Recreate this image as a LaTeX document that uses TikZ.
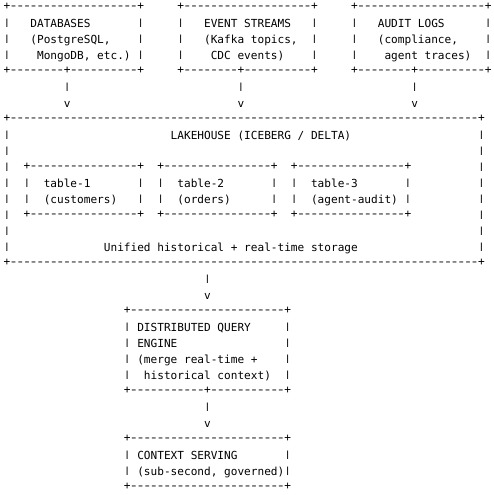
\documentclass[tikz,border=0pt]{standalone}
\usepackage{fontspec}
\usepackage{graphicx}
\setmonofont{DejaVu Sans Mono}
\ExplSyntaxOn
\cs_new:Npn \asciirep #1#2 { \prg_replicate:nn {#1} {#2} }
\ExplSyntaxOff
\newcommand\asciifont{\fontsize{11.1pt}{16pt}\selectfont\ttfamily}
\newcommand\vb{\raisebox{1.9pt}{\scalebox{1}[0.76]{|}}}
\newcommand\hy{\makebox[0.602em]{\scalebox{1.35}[1]{-}}}
\newcounter{segc}
\newcommand\seg[4][asc]{\stepcounter{segc}\node[#1] (s\arabic{segc}) at (#2,#3) {#4};}
\newcommand\brd[3]{\seg[brd]{#1}{#2}{#3}}
\newcommand\bars[2]{\foreach \colx in {#2}{\seg{\colx}{#1}{\vb}}}
\begin{document}
\begin{tikzpicture}[x=6.682pt,y=-16.01pt,
  asc/.style={anchor=base west,inner sep=0pt,outer sep=0pt,font=\asciifont,text=black},
  brd/.style={asc,yshift=2.2pt}]
\useasboundingbox (0pt,0pt) rectangle (494pt,-495pt);
\fill[white] (0pt,0pt) rectangle (494pt,-495pt);
\begin{scope}[shift={(3.66pt,-11.3pt)}]
% sources
\foreach \bx in {0,26,52}{\brd{\bx}{0}{+\asciirep{19}{\hy}+}}
\bars{1}{0,20,26,46,52,72}
\seg{4}{1}{DATABASES}
\seg{30}{1}{EVENT STREAMS}
\seg{56}{1}{AUDIT LOGS}
\bars{2}{0,20,26,46,52,72}
\seg{4}{2}{(PostgreSQL,}
\seg{30}{2}{(Kafka topics,}
\seg{56}{2}{(compliance,}
\bars{3}{0,20,26,46,52,72}
\seg{5}{3}{MongoDB, etc.)}
\seg{31}{3}{CDC events)}
\seg{57}{3}{agent traces)}
\foreach \bx in {0,26,52}{\brd{\bx}{4}{+\asciirep{8}{\hy}+\asciirep{10}{\hy}+}}
\bars{5}{9,35,61}
\foreach \bx in {9,35,61}{\seg{\bx}{6}{v}}
% lakehouse
\brd{0}{7}{+\asciirep{70}{\hy}+}
\bars{8}{0,71}
\seg{25}{8}{LAKEHOUSE (ICEBERG / DELTA)}
\bars{9}{0,71}
\bars{10}{0,71}
\foreach \bx in {3,23,43}{\brd{\bx}{10}{+\asciirep{16}{\hy}+}}
\bars{11}{0,3,20,23,40,43,60,71}
\seg{6}{11}{table-1}
\seg{26}{11}{table-2}
\seg{46}{11}{table-3}
\bars{12}{0,3,20,23,40,43,60,71}
\seg{6}{12}{(customers)}
\seg{26}{12}{(orders)}
\seg{46}{12}{(agent-audit)}
\bars{13}{0,71}
\foreach \bx in {3,23,43}{\brd{\bx}{13}{+\asciirep{16}{\hy}+}}
\bars{14}{0,71}
\bars{15}{0,71}
\seg{15}{15}{Unified historical + real-time storage}
\brd{0}{16}{+\asciirep{70}{\hy}+}
\bars{17}{30}
\seg{30}{18}{v}
% query engine
\brd{18}{19}{+\asciirep{23}{\hy}+}
\bars{20}{18,42}
\seg{20}{20}{DISTRIBUTED QUERY}
\bars{21}{18,42}
\seg{20}{21}{ENGINE}
\bars{22}{18,42}
\seg{20}{22}{(merge real-time +}
\bars{23}{18,42}
\seg{21}{23}{historical context)}
\brd{18}{24}{+\asciirep{11}{\hy}+\asciirep{11}{\hy}+}
\bars{25}{30}
\seg{30}{26}{v}
% context serving
\brd{18}{27}{+\asciirep{23}{\hy}+}
\bars{28}{18,42}
\seg{20}{28}{CONTEXT SERVING}
\bars{29}{18,42}
\seg{20}{29}{(sub-second, governed)}
\brd{18}{30}{+\asciirep{23}{\hy}+}
\end{scope}
\end{tikzpicture}
\end{document}
